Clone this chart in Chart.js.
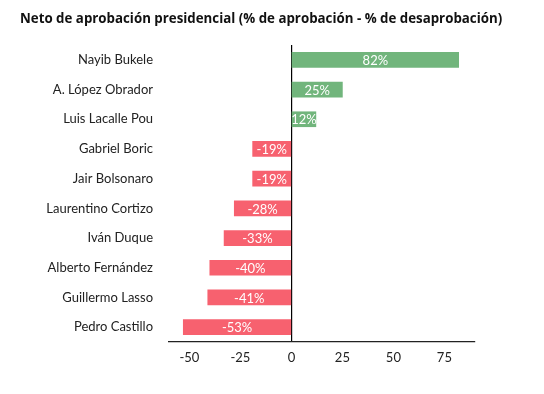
<!DOCTYPE html>
<html><head><meta charset="utf-8">
<script src="https://cdn.jsdelivr.net/npm/chart.js@4/dist/chart.umd.min.js"></script>
<style>html,body{margin:0;padding:0;background:#fff;}#wrap{width:544px;height:394px;}</style>
</head><body><div id="wrap"><canvas id="c" width="544" height="394"></canvas></div>
<script>
const categories = ["Nayib Bukele","A. López Obrador","Luis Lacalle Pou","Gabriel Boric","Jair Bolsonaro","Laurentino Cortizo","Iván Duque","Alberto Fernández","Guillermo Lasso","Pedro Castillo"];
const netApproval = [82,25,12,-19,-19,-28,-33,-40,-41,-53];
const xTicks = [-50,-25,0,25,50,75];
const titleText = "Neto de aprobación presidencial (% de aprobación - % de desaprobación)";

const GREEN = "#71b57c", RED = "#f7616f";

const labelPlugin = {
  id: 'barLabels',
  afterDatasetsDraw(chart) {
    const ctx = chart.ctx;
    const meta = chart.getDatasetMeta(0);
    ctx.save();
    ctx.font = "13px Lato";
    ctx.fillStyle = "#ffffff";
    ctx.textAlign = "center";
    ctx.textBaseline = "middle";
    meta.data.forEach((bar, i) => {
      const p = bar.getProps(['x','y','base'], true);
      const cx = (p.x + p.base) / 2;
      ctx.fillText(netApproval[i] + "%", cx, p.y + 1);
    });
    ctx.restore();
  }
};

const titlePlugin = {
  id: 'wideTitle',
  afterDraw(chart) {
    const ctx = chart.ctx;
    ctx.save();
    ctx.font = "bold 13.3px 'Open Sans'";
    ctx.fillStyle = "#111";
    ctx.textAlign = "left";
    ctx.textBaseline = "middle";
    ctx.fillText(titleText, 20, 19);
    ctx.restore();
  }
};

new Chart(document.getElementById('c'), {
  type: 'bar',
  data: {
    labels: categories,
    datasets: [{
      data: netApproval,
      backgroundColor: netApproval.map(v => v >= 0 ? GREEN : RED),
      barThickness: 15,
      borderWidth: 0
    }]
  },
  options: {
    indexAxis: 'y',
    responsive: false,
    animation: false,
    devicePixelRatio: 1,
    layout: { padding: { left: 20, right: 69, top: 45, bottom: 0 } },
    plugins: {
      legend: { display: false },
      tooltip: { enabled: false },
      title: { display: false }
    },
    scales: {
      x: {
        min: -60, max: 90,
        afterBuildTicks(axis) { axis.ticks = xTicks.map(v => ({ value: v })); },
        afterFit(axis) { axis.height = 52; },
        grid: {
          drawTicks: false,
          color: ctx => (ctx.tick && ctx.tick.value === 0) ? '#000' : 'rgba(0,0,0,0)',
          lineWidth: 1.2
        },
        border: { display: true, color: '#222', width: 1.2 },
        ticks: { color: '#222', font: { family: 'Lato', size: 13 }, padding: 8 }
      },
      y: {
        afterFit(axis) { axis.width = 149; },
        grid: { display: false, drawTicks: false },
        border: { display: false },
        ticks: { color: '#222', font: { family: 'Lato', size: 13 }, padding: 16 }
      }
    }
  },
  plugins: [labelPlugin, titlePlugin]
});
</script></body></html>
